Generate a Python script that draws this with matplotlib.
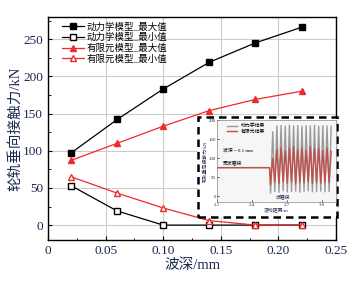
import numpy as np
import matplotlib.pyplot as plt

plt.rcParams['font.family'] = ['Liberation Serif', 'Noto Sans CJK SC']
plt.rcParams['axes.unicode_minus'] = False

depth = [0.02, 0.06, 0.10, 0.14, 0.18, 0.22]
dyn_max = [97, 142, 183, 219, 245, 266]
dyn_min = [53, 19, 0, 0, 0, 0]
fem_max = [87, 110, 133, 154, 169, 180]
fem_min = [65, 43, 23, 6, 0, 0]

# inset: rolling force over distance (flat section then corrugated section)
flat_level = 75
gray_peaks = [170, 185, 186, 184, 187, 185, 186, 184, 186, 185, 187, 184, 186, 185, 184]
gray_troughs = [8, 12, 10, 14, 11, 12, 13, 10, 12, 14, 11, 12, 13, 11, 12]
red_peaks = [100, 124, 128, 120, 126, 130, 122, 127, 121, 129, 124, 126, 120, 128, 118]
red_troughs = [30, 36, 33, 38, 34, 37, 32, 36, 35, 38, 33, 36, 34, 37, 35]

tick_col = '#1c2750'

fig = plt.figure(figsize=(3.61, 2.81), dpi=100)
ax = fig.add_axes([0.133, 0.146, 0.798, 0.794])

ax.grid(True, color='#cccccc', lw=0.8, zorder=0)
ax.plot(depth, dyn_max, '-s', color='black', lw=0.9, ms=4, mfc='black', label='动力学模型_最大值', zorder=3)
ax.plot(depth, dyn_min, '-s', color='black', lw=0.9, ms=4, mfc='white', label='动力学模型_最小值', zorder=3)
ax.plot(depth, fem_max, '-^', color='#ee2a2a', lw=0.9, ms=5, mfc='#ee2a2a', label='有限元模型_最大值', zorder=4)
ax.plot(depth, fem_min, '-^', color='#ee2a2a', lw=0.9, ms=5, mfc='white', label='有限元模型_最小值', zorder=4)

ax.set_xlim(0, 0.25)
ax.set_ylim(-20, 280)
ax.set_xticks([0, 0.05, 0.10, 0.15, 0.20, 0.25])
ax.set_xticklabels(['0', '0.05', '0.10', '0.15', '0.20', '0.25'])
ax.set_yticks([0, 50, 100, 150, 200, 250])
ax.set_xticks(np.arange(0, 0.26, 0.025), minor=True)
ax.set_yticks(np.arange(0, 276, 25), minor=True)
ax.tick_params(direction='in', labelsize=9.5, labelcolor=tick_col, length=3)
ax.tick_params(which='minor', direction='in', length=1.8)
for s in ax.spines.values():
    s.set_linewidth(1.0)
ax.set_xlabel('波深/mm', fontsize=10.5, color=tick_col, labelpad=1)
ax.set_ylabel('轮轨垂向接触力/kN', fontsize=10.5, color=tick_col, labelpad=1)
ax.legend(loc='upper left', fontsize=6.8, frameon=False, handlelength=2.3,
          borderaxespad=0.2, labelspacing=0.15, handletextpad=0.3, bbox_to_anchor=(0.03, 1.0))

# dashed frame around inset
frame = plt.Rectangle((0.549, 0.228), 0.385, 0.356, transform=fig.transFigure,
                      fill=True, facecolor='white', edgecolor='black', lw=1.8, ls=(0, (3, 2)), zorder=5)
fig.patches.append(frame)

ins = fig.add_axes([0.602, 0.282, 0.328, 0.29], zorder=6)
period = 0.036
x0 = 2.55
xs = [2.1, x0]
gy = [flat_level, flat_level]
ry = [flat_level, flat_level]
for i in range(len(gray_peaks)):
    xs += [x0 + i * period + period * 0.25, x0 + i * period + period * 0.75]
    gy += [gray_troughs[i], gray_peaks[i]]
    ry += [red_troughs[i], red_peaks[i]]
ins.plot(xs, gy, color='#9a9a9a', lw=1.0, label='动力学结果')
ins.plot(xs, ry, color='#c0504d', lw=1.0, label='有限元结果')
ins.set_xlim(2.1, 3.12)
ins.set_ylim(-15, 200)
ins.set_xticks([2.1, 2.4, 2.7, 3.0])
ins.set_yticks([0, 50, 100, 150, 200])
ins.tick_params(direction='in', labelsize=3.5, labelcolor=tick_col, length=1.5, pad=1, width=0.5)
for s in ins.spines.values():
    s.set_linewidth(0.5)
    s.set_color('#888888')
ins.set_facecolor('#f6f6f6')
ins.set_xlabel('滚动距离/m', fontsize=3.5, color=tick_col, labelpad=0.5)
ins.set_ylabel('轮轨垂向接触力/kN', fontsize=3.5, color=tick_col, labelpad=0.5)
ins.legend(loc='upper left', fontsize=3.5, frameon=False, handlelength=2.2,
           borderaxespad=0.3, labelspacing=0.2, bbox_to_anchor=(0.05, 1.0))
ins.text(2.15, 118, '波深 = 0.1 mm', fontsize=3.5)
ins.text(2.15, 82, '无波磨段', fontsize=3.5)
ins.text(2.6, -8, '波磨段', fontsize=3.5, color=tick_col)

fig.savefig('out.png', dpi=100)
